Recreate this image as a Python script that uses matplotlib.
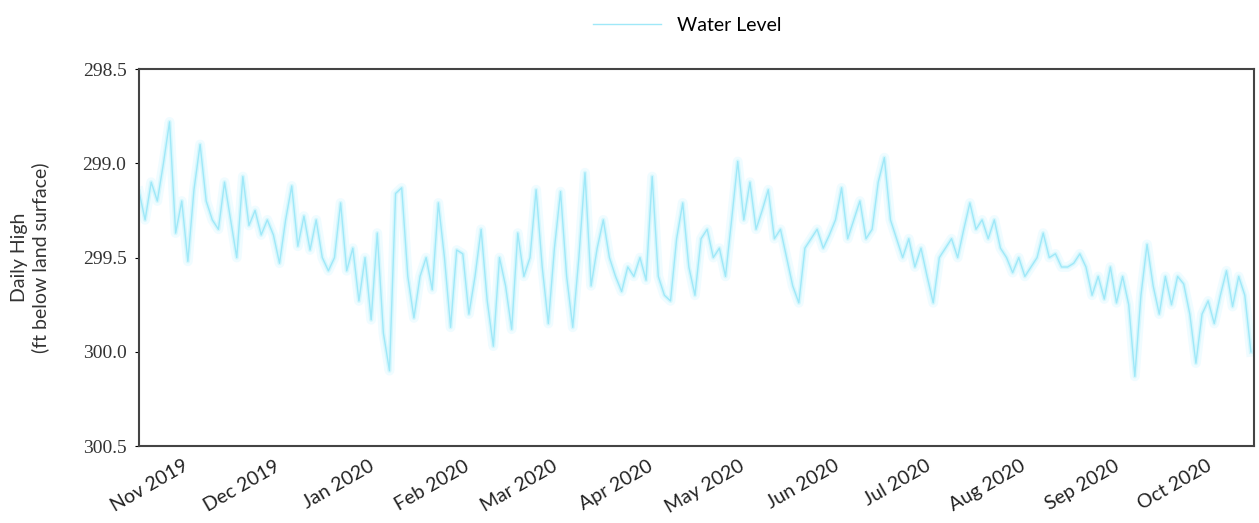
import numpy as np
import pandas as pd
import matplotlib
matplotlib.use("Agg")
import matplotlib.pyplot as plt
import matplotlib.dates as mdates

# daily high water level, sampled every 2 days (ft below land surface)
start_date = "2019-10-15"
step_days = 2
water_level = [
    299.15, 299.30, 299.10, 299.20, 299.00, 298.78, 299.37, 299.20, 299.52, 299.14,
    298.90, 299.20, 299.30, 299.35, 299.10, 299.30, 299.50, 299.07, 299.33, 299.25,
    299.38, 299.30, 299.38, 299.53, 299.30, 299.12, 299.44, 299.28, 299.46, 299.30,
    299.50, 299.57, 299.50, 299.21, 299.57, 299.45, 299.73, 299.50, 299.83, 299.37,
    299.90, 300.10, 299.16, 299.13, 299.60, 299.82, 299.60, 299.50, 299.67, 299.21,
    299.50, 299.87, 299.46, 299.48, 299.80, 299.60, 299.35, 299.73, 299.97, 299.50,
    299.65, 299.88, 299.37, 299.60, 299.50, 299.14, 299.55, 299.85, 299.45, 299.15,
    299.60, 299.87, 299.50, 299.05, 299.65, 299.45, 299.30, 299.50, 299.60, 299.68,
    299.55, 299.60, 299.50, 299.62, 299.07, 299.60, 299.70, 299.73, 299.40, 299.21,
    299.55, 299.70, 299.40, 299.35, 299.50, 299.45, 299.60, 299.30, 298.99, 299.30,
    299.10, 299.35, 299.25, 299.14, 299.40, 299.35, 299.50, 299.65, 299.74, 299.45,
    299.40, 299.35, 299.45, 299.38, 299.30, 299.13, 299.40, 299.30, 299.20, 299.40,
    299.35, 299.10, 298.97, 299.30, 299.40, 299.50, 299.40, 299.55, 299.45, 299.60,
    299.74, 299.50, 299.45, 299.40, 299.50, 299.35, 299.21, 299.35, 299.30, 299.40,
    299.30, 299.45, 299.50, 299.58, 299.50, 299.60, 299.55, 299.50, 299.37, 299.50,
    299.48, 299.55, 299.55, 299.53, 299.48, 299.55, 299.70, 299.60, 299.72, 299.55,
    299.74, 299.60, 299.75, 300.13, 299.70, 299.43, 299.65, 299.80, 299.60, 299.75,
    299.60, 299.64, 299.80, 300.06, 299.80, 299.73, 299.85, 299.70, 299.57, 299.76,
    299.60, 299.70, 300.00,
]
y_ticks = [298.5, 299.0, 299.5, 300.0, 300.5]

dates = pd.date_range(start_date, periods=len(water_level), freq=f"{step_days}D")

fig = plt.figure(figsize=(12.59, 5.23), dpi=100)
ax = fig.add_axes([0.1104, 0.147, 0.8856, 0.721])

# soft halo under the line, like the faded original
ax.plot(dates, water_level, color="#f0fcff", lw=7, solid_joinstyle="round")
ax.plot(dates, water_level, color="#d6f7fd", lw=3, solid_joinstyle="round")
line, = ax.plot(dates, water_level, color="#9fe8f8", lw=1.0, label="Water Level")

ax.set_xlim(dates[0], dates[-1] + pd.Timedelta(days=1))
ax.set_ylim(300.5, 298.5)
ax.set_yticks(y_ticks)
ax.set_yticklabels([f"{v:.1f}" for v in y_ticks], family="Liberation Serif",
                   fontsize=14, color="#333333")

ax.xaxis.set_major_locator(mdates.MonthLocator())
ax.xaxis.set_major_formatter(mdates.DateFormatter("%b %Y"))
for lbl in ax.get_xticklabels():
    lbl.set_rotation(30)
    lbl.set_ha("right")
    lbl.set_family("Lato")
    lbl.set_fontsize(14)
    lbl.set_color("#222222")

ax.tick_params(axis="x", length=0, pad=8)
ax.tick_params(axis="y", length=3, direction="out", pad=6)
for s in ax.spines.values():
    s.set_color("#444444")
    s.set_linewidth(1.5)

ax.set_ylabel("Daily High\n(ft below land surface)", family="Lato", fontsize=14,
              color="#333333", labelpad=24)

fig.legend(handles=[line], loc="center", bbox_to_anchor=(0.546, 0.952),
           frameon=False, prop={"family": "Lato", "size": 14}, handlelength=3.5)

fig.savefig("out.png", dpi=100)
